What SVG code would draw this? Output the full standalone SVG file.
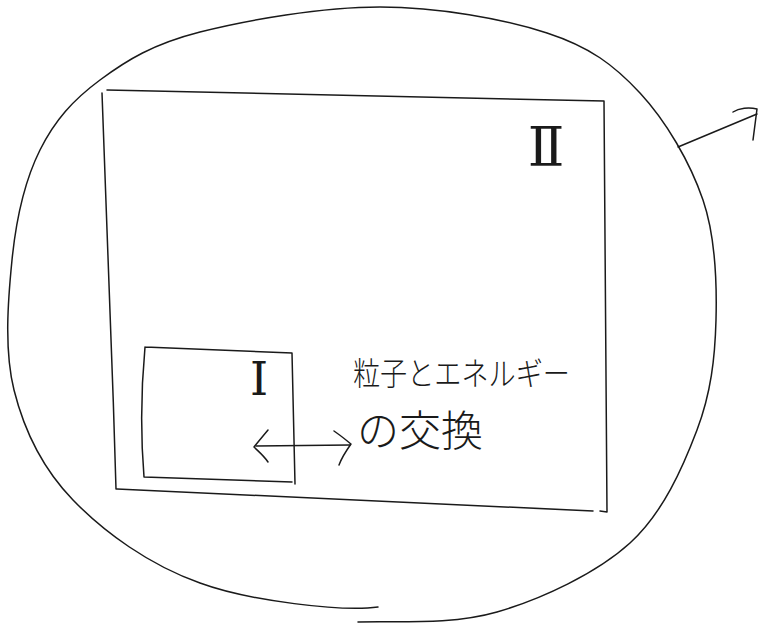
<svg xmlns="http://www.w3.org/2000/svg" width="758" height="630" viewBox="0 0 758 630">
<style>
.s{fill:none;stroke:#1a1a1a;stroke-width:1.5;stroke-linecap:round;stroke-linejoin:round}
.t{font-family:"Noto Sans CJK JP","Noto Sans",sans-serif;fill:#1a1a1a;font-weight:300}
.r{font-family:"DejaVu Serif","Liberation Serif",serif;fill:#1a1a1a;text-anchor:middle}
</style>
<rect width="758" height="630" fill="#fff"/>
<g id="universe">
<path class="s" d="M358 622 C399 621 452 625 497 612 C542 599 597 573 630 543 C663 513 683 467 697 430 C711 393 715 358 716 320 C717 282 716 238 703 200 C690 162 666 121 640 93 C614 65 590 47 547 33 C504 19 438 7 380 7 C322 7 247 20 200 32 C153 44 127 60 100 80 C73 100 55 120 40 150 C25 180 16 220 12 260 C8 300 4 350 14 390 C24 430 42 468 73 500 C104 532 149 565 200 583 C249 601 343 612 378 607"/>
</g>
<g id="system2">
<path class="s" d="M107 90 L604 101 L607 512 M607 512 L600 511 M593 511 L117 489 M102 93 C106 200 112 350 116 489"/>
<text class="r" x="546" y="166" font-size="54">Ⅱ</text>
</g>
<g id="system1">
<path class="s" d="M145 347 L292 353 L295 484 M292 482 L144 477 C141 440 141 390 145 347"/>
<text class="r" x="259" y="395" font-size="46">Ⅰ</text>
</g>
<g id="connectors">
<path class="s" d="M256 446 L350 445"/>
<path class="s" d="M268 430 C263 436 258 442 254 447 C259 452 264 456 268 462"/>
<path class="s" d="M334 431 C340 435 346 440 351 444 C346 451 342 457 339 465"/>
<path class="s" d="M678 147 L757 114"/>
<path class="s" d="M733 112 C739 108 749 107 757 109 L753 140"/>
</g>
<g id="label">
<text class="t" x="353" y="385" font-size="32" textLength="217" lengthAdjust="spacingAndGlyphs">粒子とエネルギー</text>
<text class="t" x="357" y="446" font-size="42">の交換</text>
</g>
</svg>
